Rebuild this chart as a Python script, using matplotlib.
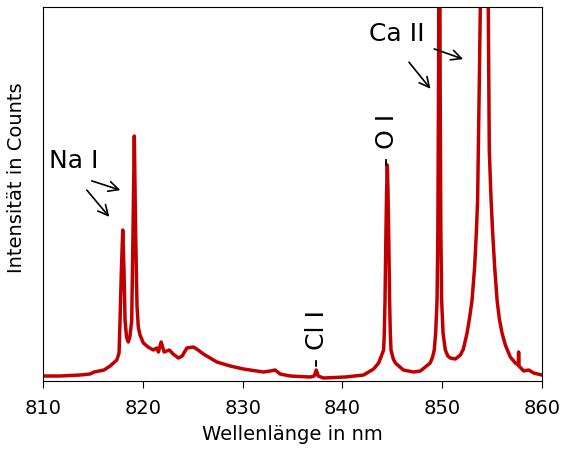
import matplotlib.pyplot as plt

# Spektrum, Wellenlaenge in nm und Intensitaet in willkuerlichen Einheiten
wellenlaenge = [810.0, 811.68, 813.68, 814.69, 815.09, 816.09, 816.70, 817.37, 817.60, 817.70,
                817.83, 817.97, 818.10, 818.20, 818.35, 818.53, 818.70, 818.87, 819.00, 819.13,
                819.26, 819.40, 819.53, 819.70, 820.04, 820.51, 821.04, 821.39, 821.55,
                821.82, 822.12, 822.37, 822.65, 823.02, 823.55, 823.93, 824.40, 825.06, 825.53,
                826.06, 826.74, 827.41, 828.75, 830.08, 832.09, 832.76, 833.26, 833.76, 834.77,
                836.78, 837.18, 837.38, 837.58, 838.11, 840.29, 842.13, 843.13, 843.64, 843.91,
                844.14, 844.21, 844.28, 844.36, 844.44, 844.51, 844.58, 844.66, 844.74, 844.81,
                844.88, 845.11, 845.32, 846.12, 847.15, 847.82, 848.32, 848.81, 849.05, 849.22,
                849.36, 849.50, 849.58, 849.65, 849.73, 849.81, 849.88, 849.96, 850.10, 850.33,
                850.58, 850.83, 851.34, 851.84, 852.14, 852.51, 852.79, 853.01, 853.27, 853.44,
                853.57, 853.64, 853.74, 853.84, 854.04, 854.24, 854.44, 854.64, 854.74, 854.92,
                855.08, 855.28, 855.52, 855.75, 856.02, 856.35, 856.85, 857.35, 857.65, 857.68,
                857.72, 858.19, 858.69, 859.20, 860.0]
intensitaet = [5, 5, 6, 7, 9, 11, 15, 21, 28, 61,
               110, 151, 110, 61, 44, 39, 45, 61, 150, 245,
               150, 75, 54, 46, 38, 34, 31, 33, 29,
               39, 29, 30, 31, 27, 23, 25, 33, 34, 31,
               27, 23, 19, 15, 12, 9, 10, 11, 7, 5,
               4, 5, 11, 5, 3, 4, 6, 12, 18, 25,
               31, 48, 81, 140, 190, 216, 190, 140, 81, 48,
               31, 22, 18, 11, 9, 10, 14, 18, 24, 31,
               48, 81, 150, 300, 600, 300, 150, 81, 48, 31,
               25, 23, 22, 26, 32, 48, 65, 81, 114, 148,
               181, 231, 300, 374, 600, 700, 600, 374, 231, 181,
               148, 114, 81, 62, 48, 36, 24, 18, 16, 29,
               15, 10, 11, 8, 6]

x_ticks = [810, 820, 830, 840, 850, 860]

rot = '#C00000'

fig = plt.figure(figsize=(5.63, 4.58), dpi=100)
ax = fig.add_axes([0.0769, 0.1681, 0.8853, 0.8166])

ax.plot(wellenlaenge, intensitaet, color=rot, linewidth=2.5, solid_joinstyle='round')

ax.set_xlim(810, 860)
ax.set_ylim(0, 374)
ax.set_xticks(x_ticks)
ax.set_yticks([])
ax.tick_params(axis='x', labelsize=14, length=5, pad=8)

ax.set_xlabel("Wellenlänge in nm", fontsize=14, labelpad=5)
ax.set_ylabel("Intensität in Counts", fontsize=14)
ax.yaxis.set_label_coords(-0.035, 0.544)

# Beschriftungen der Linien
pfeil = dict(arrowstyle='->', color='black', lw=1.2, mutation_scale=18)
ax.text(810.57, 213, "Na I", fontsize=18, ha='left', va='baseline')
ax.annotate("", xy=(818.0, 190), xytext=(814.59, 201), arrowprops=pfeil)
ax.annotate("", xy=(816.80, 162), xytext=(814.19, 193), arrowprops=pfeil)

ax.text(842.63, 340, "Ca II", fontsize=18, ha='left', va='baseline')
ax.annotate("", xy=(852.38, 321), xytext=(848.96, 333), arrowprops=pfeil)
ax.annotate("", xy=(849.02, 290), xytext=(846.51, 321), arrowprops=pfeil)

ax.text(844.5, 215, "- O I", fontsize=18, rotation=90, ha='center', va='bottom')
ax.text(837.5, 14, "- Cl I", fontsize=18, rotation=90, ha='center', va='bottom')

plt.savefig("out.png", dpi=100)
